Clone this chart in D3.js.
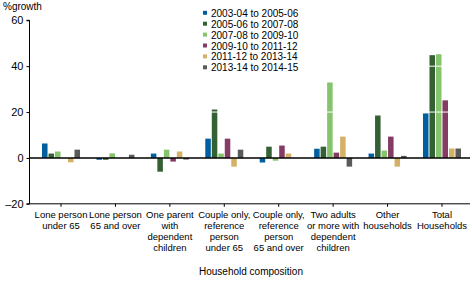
<!DOCTYPE html>
<html>
<head>
<meta charset="utf-8">
<script src="https://cdn.jsdelivr.net/npm/d3@7"></script>
<style>
  body { margin: 0; background: #fff; }
  text { font-family: Arial, "Liberation Sans", sans-serif; font-size: 10px; fill: #000; }
</style>
</head>
<body>
<div id="chart"></div>
<script>
// categories and series
const categories = [
    ["Lone person", "under 65"],
    ["Lone person", "65 and over"],
    ["One parent", "with", "dependent", "children"],
    ["Couple only,", "reference", "person", "under 65"],
    ["Couple only,", "reference", "person", "65 and over"],
    ["Two adults", "or more with", "dependent", "children"],
    ["Other", "households"],
    ["Total", "Households"]
];
const seriesNames = ["2003-04 to 2005-06", "2005-06 to 2007-08", "2007-08 to 2009-10",
    "2009-10 to 2011-12", "2011-12 to 2013-14", "2013-14 to 2014-15"];
const seriesColors = ["#005F9E", "#336134", "#85C46C", "#843C64", "#D4B166", "#5A5A5A"];

const s0304 = [6.3, -0.8, 1.9, 8.4, -2.0, 4.0, 1.9, 19.4];
const s0506 = [1.9, -0.8, -6.0, 21.1, 4.9, 4.9, 18.5, 44.8];
const s0708 = [2.8, 2.0, 3.6, 1.9, -1.2, 32.9, 3.2, 45.2];
const s0910 = [0, 0, -1.6, 8.4, 5.4, 2.3, 9.3, 25.1];
const s1112 = [-1.9, 0, 2.8, -3.8, 1.9, 9.3, -3.8, 4.1];
const s1314 = [3.6, 1.4, -0.7, 3.6, 0, -3.8, 0.9, 4.1];
const seriesValues = [s0304, s0506, s0708, s0910, s1112, s1314];

const yTicks = [-20, 0, 20, 40, 60];

const width = 472, height = 283;
const svg = d3.select("#chart").append("svg")
    .attr("width", width)
    .attr("height", height);

const x = d3.scaleBand()
    .domain(d3.range(categories.length))
    .range([33.8, 469.2])
    .padding(0);

const xInner = d3.scaleBand()
    .domain(d3.range(seriesNames.length))
    .range([-19, 19])
    .paddingInner(0.15);

const y = d3.scaleLinear()
    .domain([-20, 60])
    .range([203.8, 20.3]);

// bars
seriesValues.forEach((vals, si) => {
    svg.append("g").selectAll("rect")
        .data(vals)
        .enter()
        .append("rect")
        .attr("x", (d, i) => x(i) + x.bandwidth() / 2 + xInner(si))
        .attr("y", d => y(Math.max(0, d)))
        .attr("width", xInner.bandwidth())
        .attr("height", d => Math.abs(y(d) - y(0)))
        .attr("fill", seriesColors[si]);
});

// white gridlines drawn over the bars
svg.append("g").selectAll("line")
    .data(yTicks.filter(t => t > 0))
    .enter()
    .append("line")
    .attr("x1", 30).attr("x2", 470)
    .attr("y1", d => y(d)).attr("y2", d => y(d))
    .attr("stroke", "#fff")
    .attr("stroke-width", 1);

// zero line
svg.append("line")
    .attr("x1", 29).attr("x2", 470)
    .attr("y1", y(0)).attr("y2", y(0))
    .attr("stroke", "#000")
    .attr("stroke-width", 1.5);

// y axis
const yAxis = d3.axisLeft(y).tickValues(yTicks).tickSize(3).tickPadding(3)
    .tickFormat(d => d < 0 ? "\u2013" + Math.abs(d) : d);
const gy = svg.append("g").attr("transform", "translate(29.5,0)").call(yAxis);
gy.select(".domain").attr("stroke", "#000").attr("d", `M-3,${y(60)}H0V${y(-20)}H-3`);
gy.selectAll("text").style("font-size", "11px");

// x axis
const xAxis = d3.axisBottom(x).tickSize(3).tickSizeOuter(0).tickFormat("");
const gx = svg.append("g").attr("transform", `translate(0,${y(-20)})`).call(xAxis);
gx.select(".domain").attr("d", "M29,0H470");

svg.append("g").selectAll("text")
    .data(categories)
    .enter()
    .append("text")
    .attr("text-anchor", "middle")
    .style("font-size", "9.5px")
    .attr("x", (d, i) => x(i) + x.bandwidth() / 2)
    .attr("y", 218)
    .each(function(lines) {
        d3.select(this).selectAll("tspan")
            .data(lines)
            .enter()
            .append("tspan")
            .attr("x", d3.select(this).attr("x"))
            .attr("dy", (l, j) => j === 0 ? 0 : 11)
            .text(l => l);
    });

// axis titles
svg.append("text").attr("x", 3).attr("y", 10).text("%growth");
svg.append("text").attr("x", 251).attr("y", 275).attr("text-anchor", "middle")
    .text("Household composition");

// legend
const legend = svg.append("g").selectAll("g")
    .data(seriesNames)
    .enter()
    .append("g")
    .attr("transform", (d, i) => `translate(203,${13.3 + i * 10.9})`);
legend.append("rect")
    .attr("x", 0).attr("y", -2.5)
    .attr("width", 4).attr("height", 4)
    .attr("fill", (d, i) => seriesColors[i]);
legend.append("text")
    .attr("x", 8).attr("y", 3.5)
    .text(d => d);
</script>
</body>
</html>
